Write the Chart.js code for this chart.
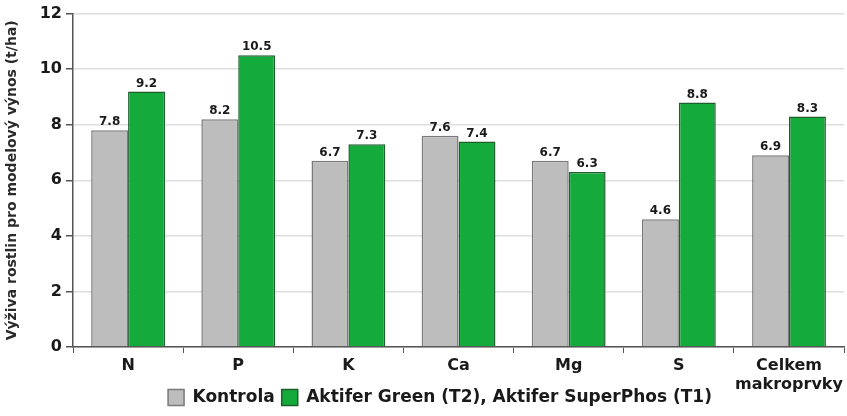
<!DOCTYPE html>
<html>
<head>
<meta charset="utf-8">
<script src="https://cdn.jsdelivr.net/npm/chart.js@4"></script>
<style>
  html, body { margin: 0; padding: 0; background: #fff; }
  #wrap { width: 847px; height: 416px; }
</style>
</head>
<body>
<div id="wrap"><canvas id="graf"></canvas></div>
<script>
const prvky = ['N', 'P', 'K', 'Ca', 'Mg', 'S', ['Celkem', 'makroprvky']];
const kontrola = [7.8, 8.2, 6.7, 7.6, 6.7, 4.6, 6.9];
const aktifer = [9.2, 10.5, 7.3, 7.4, 6.3, 8.8, 8.3];
const osaY = [0, 2, 4, 6, 8, 10, 12];

const pismo = '"DejaVu Sans", sans-serif';

// popisky hodnot nad sloupci
const popisky = {
    id: 'popisky',
    afterLayout(chart) {
        // legenda je v originale trochu posunuta doprava
        chart.legend.left += 15;
        chart.legend.right += 15;
        // druhy radek popisku osy x zasahuje k legende, at se neorizne
        chart.scales.x.bottom += 25;
    },
    afterDatasetsDraw(chart) {
        const ctx = chart.ctx;
        ctx.save();
        ctx.font = 'bold 12px ' + pismo;
        ctx.fillStyle = '#1a1a1a';
        ctx.textAlign = 'center';
        ctx.textBaseline = 'bottom';
        chart.data.datasets.forEach((ds, i) => {
            chart.getDatasetMeta(i).data.forEach((bar, j) => {
                ctx.fillText(ds.data[j].toFixed(1), bar.x, bar.y - 2);
            });
        });
        ctx.restore();
    }
};

new Chart(document.getElementById('graf'), {
    type: 'bar',
    data: {
        labels: prvky,
        datasets: [{
            label: 'Kontrola',
            data: kontrola,
            backgroundColor: '#bdbdbd',
            borderColor: '#7a7a7a',
            borderWidth: 1.5
        }, {
            label: 'Aktifer Green (T2), Aktifer SuperPhos (T1)',
            data: aktifer,
            backgroundColor: '#15ab3c',
            borderColor: '#1d5e2c',
            borderWidth: 1.5
        }]
    },
    options: {
        responsive: true,
        maintainAspectRatio: false,
        animation: false,
        layout: { padding: { top: 6, right: 1, left: 4, bottom: 0 } },
        datasets: {
            bar: { categoryPercentage: 0.67, barPercentage: 1.0 }
        },
        scales: {
            x: {
                afterFit: axis => { axis.height = 35; },
                grid: {
                    display: true,
                    offset: true,
                    drawOnChartArea: false,
                    drawTicks: true,
                    tickLength: 6,
                    color: '#555'
                },
                border: { color: '#555', width: 1.5 },
                ticks: {
                    color: '#1a1a1a',
                    font: { family: pismo, size: 16, weight: 'bold', lineHeight: 1.15 },
                    padding: 4,
                    maxRotation: 0,
                    minRotation: 0,
                    autoSkip: false
                }
            },
            y: {
                min: 0,
                max: 12,
                afterBuildTicks: axis => { axis.ticks = osaY.map(v => ({ value: v })); },
                afterFit: axis => { axis.width = 69; },
                grid: {
                    color: '#dedede',
                    lineWidth: 1.5,
                    tickLength: 7,
                    tickColor: '#555'
                },
                border: { color: '#555', width: 1.5 },
                ticks: {
                    color: '#1a1a1a',
                    font: { family: pismo, size: 16, weight: 'bold' },
                    padding: 4
                },
                title: {
                    display: true,
                    text: 'Výživa rostlin pro modelový výnos (t/ha)',
                    color: '#2a2a2a',
                    font: { family: pismo, size: 14, weight: 'bold' },
                    padding: { top: 0, bottom: 2 }
                }
            }
        },
        plugins: {
            legend: {
                position: 'bottom',
                labels: {
                    color: '#1a1a1a',
                    boxWidth: 16,
                    boxHeight: 16,
                    padding: 7,
                    font: { family: pismo, size: 17, weight: 'bold' }
                }
            },
            tooltip: { enabled: false }
        }
    },
    plugins: [popisky]
});
</script>
</body>
</html>
